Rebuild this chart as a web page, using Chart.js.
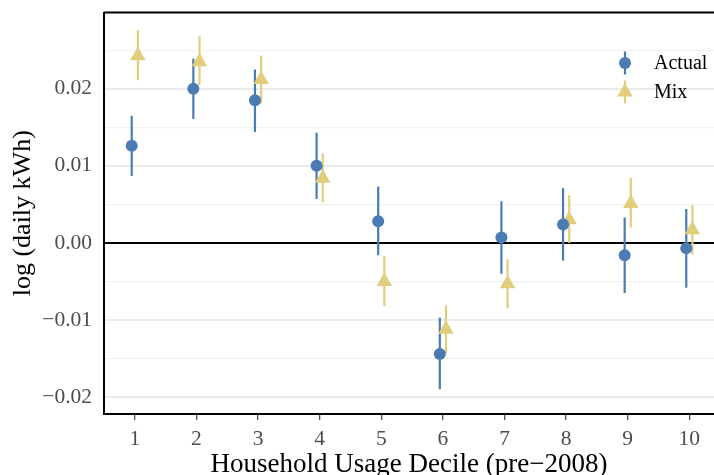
<!DOCTYPE html>
<html>
<head>
<meta charset="utf-8">
<script src="https://cdn.jsdelivr.net/npm/chart.js@4/dist/chart.umd.min.js"></script>
<style>
  html, body { margin: 0; padding: 0; background: #fff; overflow: hidden; }
  #decileChart { display: block; width: 714px; height: 475px; }
</style>
</head>
<body>
<canvas id="decileChart" width="714" height="475"></canvas>
<script>
// Household usage deciles and estimates
const deciles = [1, 2, 3, 4, 5, 6, 7, 8, 9, 10];

const actual   = [0.0126, 0.0200, 0.0185, 0.0100, 0.0028, -0.0144, 0.0007, 0.0024, -0.0016, -0.0007];
const actualLo = [0.0087, 0.0161, 0.0144, 0.0057, -0.0016, -0.0190, -0.0040, -0.0023, -0.0065, -0.0058];
const actualHi = [0.0165, 0.0239, 0.0225, 0.0143, 0.0073, -0.0097, 0.0054, 0.0071, 0.0033, 0.0044];

const mix   = [0.0243, 0.0235, 0.0212, 0.0084, -0.0050, -0.0112, -0.0053, 0.0030, 0.0051, 0.0017];
const mixLo = [0.0211, 0.0205, 0.0181, 0.0053, -0.0082, -0.0143, -0.0085, 0.0000, 0.0020, -0.0015];
const mixHi = [0.0276, 0.0268, 0.0243, 0.0116, -0.0017, -0.0081, -0.0021, 0.0062, 0.0084, 0.0049];

// y gridlines every 0.005, labels only on the 0.01 steps
const yTicks = [-0.02, -0.015, -0.01, -0.005, 0, 0.005, 0.01, 0.015, 0.02, 0.025];
const yLabels = ['\u22120.02', '', '\u22120.01', '', '0.00', '', '0.01', '', '0.02', ''];

const BLUE = '#4A7CB3';
const GOLD = '#E1CE7C';
const SERIF = '"Liberation Serif", "DejaVu Serif", serif';

const series = [
  { label: 'Actual', y: actual, lo: actualLo, hi: actualHi, color: BLUE, style: 'circle', radius: 6, dodge: -0.05 },
  { label: 'Mix', y: mix, lo: mixLo, hi: mixHi, color: GOLD, style: 'triangle', radius: 9, dodge: 0.05 }
];

// the panel runs off the right edge of the picture, so stretch the plot area to the canvas edge
const fullWidth = {
  id: 'fullWidth',
  afterLayout(chart) {
    const xs = chart.scales.x;
    chart.chartArea.right = chart.width;
    chart.chartArea.width = chart.width - chart.chartArea.left;
    xs.right = chart.width;
    xs.width = xs.right - xs.left;
    xs.configure();
  }
};

// vertical CI lines, drawn under the markers
const errorBars = {
  id: 'errorBars',
  beforeDatasetsDraw(chart) {
    const ctx = chart.ctx;
    const xs = chart.scales.x, ys = chart.scales.y;
    ctx.save();
    ctx.lineWidth = 2.2;
    series.forEach(s => {
      ctx.strokeStyle = s.color;
      deciles.forEach((d, i) => {
        const px = xs.getPixelForValue(d + s.dodge);
        ctx.beginPath();
        ctx.moveTo(px, ys.getPixelForValue(s.lo[i]));
        ctx.lineTo(px, ys.getPixelForValue(s.hi[i]));
        ctx.stroke();
      });
    });
    ctx.restore();
  }
};

// top panel border + legend box in the upper right
const panelExtras = {
  id: 'panelExtras',
  afterDraw(chart) {
    const ctx = chart.ctx;
    const a = chart.chartArea;
    ctx.save();
    ctx.strokeStyle = '#000';
    ctx.lineWidth = 2;
    ctx.beginPath();
    ctx.moveTo(a.left, a.top);
    ctx.lineTo(a.right, a.top);
    ctx.stroke();

    const kx = 625, rows = [63, 92];
    series.forEach((s, i) => {
      const cy = rows[i];
      ctx.strokeStyle = s.color;
      ctx.fillStyle = s.color;
      ctx.lineWidth = 2.2;
      ctx.beginPath();
      ctx.moveTo(kx, cy - 11.5);
      ctx.lineTo(kx, cy + 11.5);
      ctx.stroke();
      ctx.beginPath();
      if (s.style === 'circle') {
        ctx.arc(kx, cy, s.radius, 0, Math.PI * 2);
      } else {
        const r = s.radius;
        ctx.moveTo(kx, cy - r);
        ctx.lineTo(kx + r * Math.sin(Math.PI * 2 / 3), cy + r / 2);
        ctx.lineTo(kx - r * Math.sin(Math.PI * 2 / 3), cy + r / 2);
        ctx.closePath();
      }
      ctx.fill();
      ctx.fillStyle = '#000';
      ctx.font = '20px ' + SERIF;
      ctx.textBaseline = 'middle';
      ctx.textAlign = 'left';
      ctx.fillText(s.label, 654, cy + 1);
    });
    ctx.restore();
  }
};

const ctx = document.getElementById('decileChart').getContext('2d');
const decileChart = new Chart(ctx, {
  type: 'scatter',
  data: {
    datasets: series.map(s => ({
      label: s.label,
      data: deciles.map((d, i) => ({ x: d + s.dodge, y: s.y[i] })),
      pointStyle: s.style,
      pointRadius: s.radius,
      pointHoverRadius: s.radius,
      backgroundColor: s.color,
      borderColor: s.color,
      borderWidth: 0
    }))
  },
  options: {
    responsive: false,
    animation: false,
    layout: { padding: { top: 12.5, right: 0, bottom: 0, left: 0 } },
    plugins: {
      legend: { display: false },
      tooltip: { enabled: false }
    },
    scales: {
      x: {
        type: 'linear',
        min: 0.5,
        max: 10.4,
        afterBuildTicks: scale => { scale.ticks = deciles.map(v => ({ value: v })); },
        afterFit: scale => {
          scale.height = 61;
          scale.paddingLeft = 0;
          scale.paddingRight = 0;
        },
        grid: { drawOnChartArea: false, drawTicks: true, tickLength: 6, color: '#4d4d4d', lineWidth: 1.3 },
        border: { display: true, color: '#000', width: 2 },
        ticks: {
          autoSkip: false,
          maxRotation: 0,
          padding: 6,
          color: '#4d4d4d',
          font: { family: SERIF, size: 21.5 },
          callback: v => String(v)
        },
        title: {
          display: true,
          text: 'Household Usage Decile (pre\u22122008)',
          color: '#000',
          font: { family: SERIF, size: 27 },
          padding: { top: 0, bottom: -6 }
        }
      },
      y: {
        min: -0.0222,
        max: 0.0299,
        afterBuildTicks: scale => { scale.ticks = yTicks.map(v => ({ value: v })); },
        afterFit: scale => {
          scale.width = 104;
          scale.paddingTop = 0;
          scale.paddingBottom = 0;
        },
        grid: {
          drawTicks: false,
          color: c => {
            const v = c.tick ? c.tick.value : null;
            if (v === 0) return '#000';
            return yLabels[yTicks.indexOf(v)] ? '#EBEBEB' : '#F1F1F1';
          },
          lineWidth: c => {
            const v = c.tick ? c.tick.value : null;
            if (v === 0) return 2;
            return yLabels[yTicks.indexOf(v)] ? 2 : 1.2;
          }
        },
        border: { display: true, color: '#000', width: 2 },
        ticks: {
          autoSkip: false,
          padding: 12,
          color: '#4d4d4d',
          font: { family: SERIF, size: 21.5 },
          callback: (v, i) => yLabels[yTicks.indexOf(v)] || ''
        },
        title: {
          display: true,
          text: 'log (daily kWh)',
          color: '#000',
          font: { family: SERIF, size: 26 },
          padding: { top: 8, bottom: 0 }
        }
      }
    }
  },
  plugins: [fullWidth, errorBars, panelExtras]
});
</script>
</body>
</html>
